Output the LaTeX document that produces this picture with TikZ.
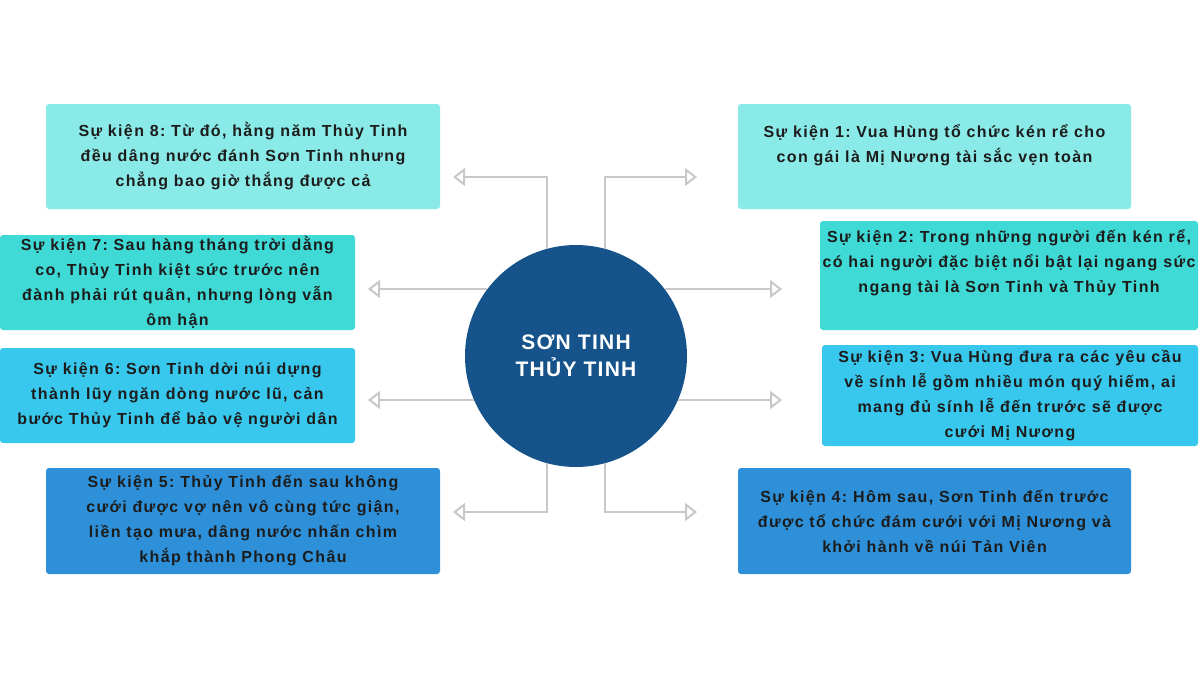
\documentclass[tikz,border=0pt]{standalone}
\usepackage{fontspec}
\setmainfont{Liberation Sans}[LetterSpace=8.5]
\newfontfamily\hubfont{Liberation Sans}[LetterSpace=6]
\usetikzlibrary{arrows.meta}

\definecolor{evlight}{HTML}{8AEAE8}
\definecolor{evturq}{HTML}{3FD9D6}
\definecolor{evsky}{HTML}{38C8EE}
\definecolor{evblue}{HTML}{2E90D8}
\definecolor{hubblue}{HTML}{16538A}
\definecolor{linkgray}{HTML}{C8C8C8}
\definecolor{evtext}{HTML}{1C1C1C}

\tikzset{
  event/.style={rounded corners=3pt, inner xsep=0pt, inner ysep=0pt, align=center,
    text=evtext, font=\fontsize{16}{25}\selectfont\bfseries},
  link/.style={linkgray, line width=2pt, -{Triangle[open, length=12pt, width=18pt]}},
}
\frenchspacing

\begin{document}
\begin{tikzpicture}[x=1pt, y=-1pt]
\useasboundingbox[fill=white] (0,0) rectangle (1200,675);

\node[circle, fill=hubblue, minimum size=222pt, inner sep=0pt, text=white, align=center,
  font=\hubfont\fontsize{21}{27}\selectfont\bfseries] (hub) at (576,356) {SƠN TINH\\THỦY TINH};

\node[event, fill=evlight, minimum width=394pt, minimum height=105pt] (ev8) at (243,156.5)
  {Sự kiện 8: Từ đó, hằng năm Thủy Tinh\\đều dâng nước đánh Sơn Tinh nhưng\\chẳng bao giờ thắng được cả};
\node[event, fill=evlight, minimum width=393pt, minimum height=105pt, text depth=-2pt] (ev1) at (934.5,156.5)
  {Sự kiện 1: Vua Hùng tổ chức kén rể cho\\con gái là Mị Nương tài sắc vẹn toàn\\\strut};
\node[event, fill=evturq, minimum width=355pt, minimum height=95pt] (ev7) at (177.5,282.5)
  {Sự kiện 7: Sau hàng tháng trời dằng\\co, Thủy Tinh kiệt sức trước nên\\đành phải rút quân, nhưng lòng vẫn\\ôm hận};
\node[event, fill=evturq, minimum width=378pt, minimum height=109pt] (ev2) at (1009,275.5)
  {\\[-8pt]Sự kiện 2: Trong những người đến kén rể,\\có hai người đặc biệt nổi bật lại ngang sức\\ngang tài là Sơn Tinh và Thủy Tinh\\\strut};
\node[event, fill=evsky, minimum width=376pt, minimum height=101pt] (ev3) at (1010,395.5)
  {Sự kiện 3: Vua Hùng đưa ra các yêu cầu\\về sính lễ gồm nhiều món quý hiếm, ai\\mang đủ sính lễ đến trước sẽ được\\cưới Mị Nương};
\node[event, fill=evsky, minimum width=355pt, minimum height=95pt] (ev6) at (177.5,395.5)
  {Sự kiện 6: Sơn Tinh dời núi dựng\\thành lũy ngăn dòng nước lũ, cản\\bước Thủy Tinh để bảo vệ người dân};
\node[event, fill=evblue, minimum width=394pt, minimum height=106pt] (ev5) at (243,521)
  {Sự kiện 5: Thủy Tinh đến sau không\\cưới được vợ nên vô cùng tức giận,\\liền tạo mưa, dâng nước nhấn chìm\\khắp thành Phong Châu};
\node[event, fill=evblue, minimum width=393pt, minimum height=106pt] (ev4) at (934.5,521)
  {Sự kiện 4: Hôm sau, Sơn Tinh đến trước\\được tổ chức đám cưới với Mị Nương và\\khởi hành về núi Tản Viên};

% arrow ends
\coordinate (to8) at (453,177);
\coordinate (to1) at (697,177);
\coordinate (to7) at (368,289);
\coordinate (to2) at (782,289);
\coordinate (to6) at (368,400);
\coordinate (to3) at (782,400);
\coordinate (to5) at (453,512);
\coordinate (to4) at (697,512);

\draw[link] (hub.105) |- (to8);
\draw[link] (hub.75) |- (to1);
\draw[link] (hub.143 |- to7) -- (to7);
\draw[link] (hub.37 |- to2) -- (to2);
\draw[link] (hub.203 |- to6) -- (to6);
\draw[link] (hub.-23 |- to3) -- (to3);
\draw[link] (hub.255) |- (to5);
\draw[link] (hub.285) |- (to4);

\end{tikzpicture}
\end{document}
